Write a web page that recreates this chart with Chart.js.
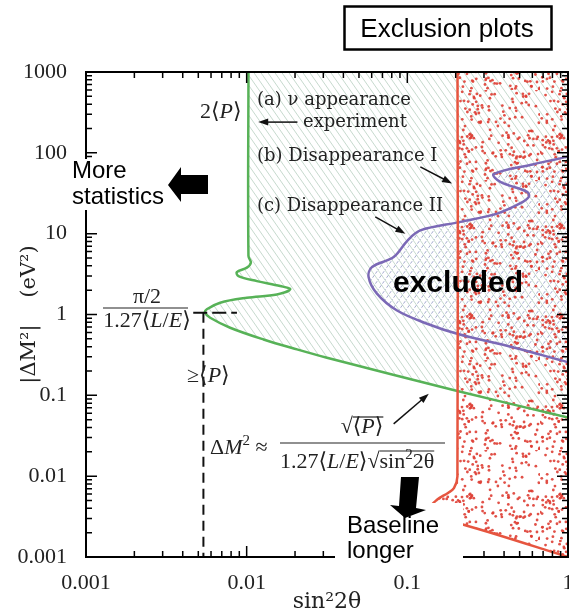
<!DOCTYPE html>
<html>
<head>
<meta charset="utf-8">
<script src="https://cdn.jsdelivr.net/npm/chart.js@4.4.1/dist/chart.umd.min.js"></script>
<style>
  html, body { margin: 0; padding: 0; background: #fff; }
  canvas { display: block; }
</style>
</head>
<body>
<canvas id="c" width="569" height="616"></canvas>
<script>
// ---- axes ----
const xTickVals = [0.001, 0.01, 0.1, 1];
const xTickLabels = ['0.001', '0.01', '0.1', '1'];
const yTickVals = [0.001, 0.01, 0.1, 1, 10, 100, 1000];
const yTickLabels = ['0.001', '0.01', '0.1', '1', '10', '100', '1000'];

// ---- (a) appearance experiment limit (green) ----
const greenX = [0.01026, 0.01026, 0.01026, 0.01062, 0.01003, 0.00869, 0.00889, 0.01159, 0.01619, 0.01866, 0.01542, 0.01003, 0.00684, 0.00565, 0.00551, 0.00593, 0.00789, 0.01274, 0.02056, 0.0316, 0.199, 1.0, 3.0];
const greenY = [3000, 1000, 5.30, 4.38, 3.80, 3.35, 2.99, 2.59, 2.25, 2.05, 1.77, 1.61, 1.40, 1.16, 1.05, 0.912, 0.686, 0.491, 0.370, 0.292, 0.1146, 0.053, 0.0306];

// ---- (b) disappearance I (red) ----
const redX = [0.205, 0.205, 0.195, 0.179, 0.153, 0.138, 0.15, 0.224, 1.0, 3.0];
const redY = [3000, 0.0099, 0.0071, 0.0062, 0.0051, 0.0040, 0.0029, 0.00251, 0.001, 0.0005];

// ---- (c) disappearance II (purple) ----
const purpleX = [3.0, 1.02, 0.612, 0.345, 0.379, 0.557, 0.570, 0.506, 0.362, 0.214, 0.1205, 0.1005, 0.0822, 0.0603, 0.0574, 0.0647, 0.0863, 0.1328, 0.204, 0.459, 1.0, 3.0];
const purpleY = [160, 91, 72.4, 54.5, 43.7, 32.9, 28.5, 23.8, 17.7, 14.0, 11.0, 8.28, 5.14, 3.87, 2.91, 1.81, 1.12, 0.769, 0.578, 0.391, 0.257, 0.145];

// ---- pi/2 / 1.27<L/E> guide lines ----
const guideHX = [0.00465, 0.0087];
const guideHY = [1.05, 1.05];
const guideVX = [0.00538, 0.00538];
const guideVY = [1.05, 0.001];

// thin pointer arrows, [x0, y0, x1, y1] in data units
const pointers = [
  [0.0207, 240, 0.0118, 240],
  [0.1205, 67.1, 0.190, 41.8],
  [0.0632, 16.1, 0.0973, 10.0],
  [0.0822, 0.0444, 0.136, 0.1045]
];

const RED = '#e6553f', GREEN = '#57b257', PURPLE = '#7b69b6';
const MATH = "'Liberation Serif', 'DejaVu Serif', 'DejaVu Sans', serif";
const TEXT = "'DejaVu Serif', serif";
const SANS = "'Liberation Sans', Arial, sans-serif";

const toPts = (xs, ys) => xs.map((x, i) => ({ x: x, y: ys[i] }));
// far corner outside the plot so the closed shape fills towards the right
const farCorner = { x: 3.0, y: 3000 };

function hatch(w, h, color, dir, dash) {
    const c = document.createElement('canvas');
    c.width = w; c.height = h;
    const g = c.getContext('2d');
    g.strokeStyle = color; g.lineWidth = 1;
    if (dash) g.setLineDash(dash);
    g.beginPath();
    for (let k = -1; k <= 1; k++) {
        if (dir > 0) { g.moveTo(k * w - w, -h); g.lineTo(k * w + 2 * w, 2 * h); }
        else { g.moveTo(k * w - w, 2 * h); g.lineTo(k * w + 2 * w, -h); }
    }
    g.stroke();
    return g.createPattern(c, 'repeat');
}

function dots() {
    const S = 90;
    const c = document.createElement('canvas');
    c.width = c.height = S;
    const g = c.getContext('2d');
    g.fillStyle = 'rgba(222,62,52,0.9)';
    for (let i = 0; i < 200; i++) {
        const h1 = Math.sin(i * 12.9898 + 1.7) * 43758.5453;
        const h2 = Math.sin(i * 78.233 + 4.1) * 24634.6345;
        g.beginPath();
        g.arc((h1 - Math.floor(h1)) * S, (h2 - Math.floor(h2)) * S, 1.4, 0, 7);
        g.fill();
    }
    return g.createPattern(c, 'repeat');
}

function logTicks(scale) {
    const out = [];
    const lo = Math.round(Math.log10(scale.min)), hi = Math.round(Math.log10(scale.max));
    for (let e = lo; e <= hi; e++) {
        for (let m = 1; m <= 9; m++) {
            const v = m * Math.pow(10, e);
            if (v <= scale.max * 1.0001) out.push([v, m === 1]);
        }
    }
    return out;
}

function arrow(ctx, x0, y0, x1, y1) {
    const a = Math.atan2(y1 - y0, x1 - x0), L = 10, W = 3.5;
    const c = Math.cos(a), s = Math.sin(a);
    ctx.beginPath();
    ctx.moveTo(x0, y0);
    ctx.lineTo(x1 - L * 0.8 * c, y1 - L * 0.8 * s);
    ctx.stroke();
    ctx.beginPath();
    ctx.moveTo(x1, y1);
    ctx.lineTo(x1 - L * c + W * s, y1 - L * s - W * c);
    ctx.lineTo(x1 - L * c - W * s, y1 - L * s + W * c);
    ctx.closePath();
    ctx.fill();
}

// draw text made of pieces: '' normal, 'i' italic, 's' superscript
function rich(ctx, x, y, parts, size, fam, align) {
    const f = st => (st.includes('i') ? 'italic ' : '') + (st.includes('s') ? Math.round(size * 0.7) : size) + 'px ' + fam;
    const ws = parts.map(([t, st]) => { ctx.font = f(st); return ctx.measureText(t).width; });
    const total = ws.reduce((s, w) => s + w, 0);
    let cx = align === 'center' ? x - total / 2 : x;
    const xs = [];
    parts.forEach(([t, st], i) => {
        ctx.font = f(st);
        xs.push(cx);
        ctx.fillText(t, cx, st.includes('s') ? y - size * 0.4 : y);
        cx += ws[i];
    });
    xs.push(cx);
    return xs;
}

function hline(ctx, x0, x1, y) {
    ctx.beginPath(); ctx.moveTo(x0, y); ctx.lineTo(x1, y); ctx.stroke();
}

function poly(ctx, pts) {
    ctx.beginPath();
    pts.forEach(([px, py], i) => i ? ctx.lineTo(px, py) : ctx.moveTo(px, py));
    ctx.closePath();
    ctx.fill();
}

const annot = {
    id: 'annot',
    afterDraw(chart) {
        const { ctx, chartArea: a, scales: { x, y } } = chart;
        ctx.save();

        // frame with inward ticks on all sides
        ctx.strokeStyle = '#000';
        ctx.lineWidth = 2;
        ctx.strokeRect(a.left, a.top, a.right - a.left, a.bottom - a.top);
        ctx.lineWidth = 1.5;
        ctx.beginPath();
        logTicks(x).forEach(([v, major]) => {
            const p = x.getPixelForValue(v), len = major ? 11 : 6;
            ctx.moveTo(p, a.bottom); ctx.lineTo(p, a.bottom - len);
            ctx.moveTo(p, a.top); ctx.lineTo(p, a.top + len);
        });
        logTicks(y).forEach(([v, major]) => {
            const p = y.getPixelForValue(v), len = major ? 11 : 6;
            ctx.moveTo(a.left, p); ctx.lineTo(a.left + len, p);
            ctx.moveTo(a.right, p); ctx.lineTo(a.right - len, p);
        });
        ctx.stroke();

        // pointers
        ctx.fillStyle = '#111';
        ctx.strokeStyle = '#111';
        ctx.lineWidth = 1.5;
        pointers.forEach(([x0, y0, x1, y1]) => {
            arrow(ctx, x.getPixelForValue(x0), y.getPixelForValue(y0), x.getPixelForValue(x1), y.getPixelForValue(y1));
        });

        // labels
        ctx.textAlign = 'left';
        ctx.textBaseline = 'alphabetic';
        ctx.fillStyle = '#222';
        rich(ctx, 257, 105, [['(a) ν appearance', '']], 18, TEXT);
        rich(ctx, 303, 127, [['experiment', '']], 18, TEXT);
        rich(ctx, 257, 161, [['(b) Disappearance I', '']], 18, TEXT);
        rich(ctx, 257, 211, [['(c) Disappearance II', '']], 18, TEXT);

        rich(ctx, 200, 118, [['2⟨', ''], ['P', 'i'], ['⟩', '']], 22, MATH);
        rich(ctx, 187, 382, [['≥⟨', ''], ['P', 'i'], ['⟩', '']], 22, MATH);

        ctx.lineWidth = 1.2;
        ctx.strokeStyle = '#222';
        rich(ctx, 147, 303, [['π/2', '']], 22, MATH, 'center');
        hline(ctx, 103, 188, 308);
        rich(ctx, 147, 327, [['1.27⟨', ''], ['L', 'i'], ['/', ''], ['E', 'i'], ['⟩', '']], 22, MATH, 'center');

        rich(ctx, 210, 454, [['Δ', ''], ['M', 'i'], ['2', 's'], [' ≈', '']], 22, MATH);
        const num = rich(ctx, 362, 433, [['√', ''], ['⟨', ''], ['P', 'i'], ['⟩', '']], 22, MATH, 'center');
        hline(ctx, num[1], num[4], 417);
        hline(ctx, 280, 445, 443);
        const den = rich(ctx, 280, 468, [['1.27⟨', ''], ['L', 'i'], ['/', ''], ['E', 'i'], ['⟩', ''], ['√', ''], ['sin', ''], ['2', 's'], ['2θ', '']], 22, MATH);
        hline(ctx, den[6], den[9], 451);

        ctx.fillStyle = '#000';
        ctx.font = 'bold 30px ' + SANS;
        ctx.fillText('excluded', 393, 292);

        // slide overlays
        ctx.fillStyle = '#fff';
        ctx.fillRect(69, 159, 100, 51);
        ctx.fillRect(335, 503, 128, 65);
        ctx.fillStyle = '#000';
        poly(ctx, [[168, 185], [181, 167], [181, 175], [208, 175], [208, 194], [181, 194], [181, 202]]);
        poly(ctx, [[401, 477], [419, 477], [416, 508], [426, 510], [405, 518], [390, 505], [399, 506]]);

        ctx.font = '24px ' + SANS;
        ctx.fillText('More', 72, 178);
        ctx.fillText('statistics', 72, 204);
        ctx.fillText('Baseline', 347, 533);
        ctx.fillText('longer', 347, 558);

        ctx.lineWidth = 2.5;
        ctx.strokeStyle = '#000';
        ctx.strokeRect(344.5, 6.5, 207, 43);
        ctx.font = '26px ' + SANS;
        ctx.textAlign = 'center';
        ctx.fillText('Exclusion plots', 447, 37);
        ctx.restore();
    }
};

new Chart(document.getElementById('c'), {
    type: 'line',
    data: {
        datasets: [
            { label: 'guide h', data: toPts(guideHX, guideHY), borderColor: '#111', borderWidth: 2, borderDash: [14, 5], fill: false, tension: 0, order: 0 },
            { label: 'guide v', data: toPts(guideVX, guideVY), borderColor: '#111', borderWidth: 2, borderDash: [10, 6], fill: false, tension: 0, order: 0 },
            { label: '(b) Disappearance I', data: [...toPts(redX, redY), farCorner], borderColor: RED, borderWidth: 2.5,
              backgroundColor: dots(), fill: 'shape', tension: 0.35, order: 1 },
            { label: '(c) Disappearance II', data: toPts(purpleX, purpleY), borderColor: PURPLE, borderWidth: 2.5,
              backgroundColor: hatch(7, 10, 'rgba(105,115,175,0.6)', -1, [3, 2]), fill: 'shape', tension: 0.35, order: 2 },
            { label: '(a) ν appearance', data: [...toPts(greenX, greenY), farCorner], borderColor: GREEN, borderWidth: 2.5,
              backgroundColor: hatch(7, 10, 'rgba(120,165,135,0.42)', 1), fill: 'shape', tension: 0.35, order: 3 }
        ]
    },
    options: {
        responsive: false,
        animation: false,
        devicePixelRatio: 1,
        layout: { padding: { top: 72, right: 1, left: 0, bottom: 0 } },
        elements: { point: { radius: 0 } },
        plugins: {
            legend: { display: false },
            tooltip: { enabled: false },
            filler: { drawTime: 'beforeDatasetsDraw' }
        },
        scales: {
            x: {
                type: 'logarithmic', min: 0.001, max: 1, position: 'bottom',
                grid: { display: false }, border: { display: false },
                afterBuildTicks: s => { s.ticks = xTickVals.map(v => ({ value: v })); },
                afterFit: s => { s.height = 59; s.paddingLeft = 0; s.paddingRight = 0; },
                ticks: {
                    autoSkip: false, maxRotation: 0, minRotation: 0, padding: 5, color: '#222',
                    font: { family: MATH, size: 22 },
                    callback: v => { const i = xTickVals.indexOf(v); return i < 0 ? '' : xTickLabels[i]; }
                },
                title: { display: true, text: 'sin²2θ', color: '#222', font: { family: TEXT, size: 22 }, padding: { top: 0, bottom: 1 } }
            },
            y: {
                type: 'logarithmic', min: 0.001, max: 1000, position: 'left',
                grid: { display: false }, border: { display: false },
                afterBuildTicks: s => { s.ticks = yTickVals.map(v => ({ value: v })); },
                afterFit: s => { s.width = 86; },
                ticks: {
                    autoSkip: false, padding: 11, color: '#222',
                    font: { family: MATH, size: 22 },
                    callback: v => { const i = yTickVals.indexOf(v); return i < 0 ? '' : yTickLabels[i]; }
                },
                title: { display: true, text: '|ΔM²|    (eV²)', color: '#222', font: { family: TEXT, size: 21 }, padding: { top: 17, bottom: 0 } }
            }
        }
    },
    plugins: [annot]
});
</script>
</body>
</html>
